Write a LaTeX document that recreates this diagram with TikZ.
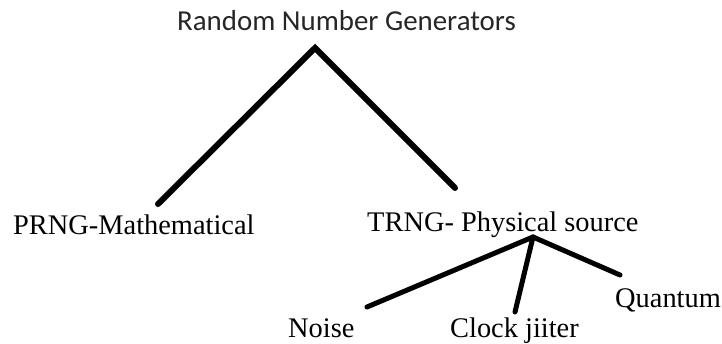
\documentclass[tikz,border=0pt]{standalone}
\usepackage{fontspec}
\setmainfont{Liberation Serif}
\newfontfamily\calib{Carlito}
\begin{document}
\begin{tikzpicture}[x=1pt,y=-1pt,
  lbl/.style={anchor=base west,inner sep=0pt,font=\fontsize{28.4}{30}\selectfont},
  ttl/.style={anchor=base west,inner sep=0pt,font=\calib\fontsize{28.9}{30}\selectfont,text=black!85},
  thick line/.style={line width=6pt,line cap=round,line join=miter},
  thin line/.style={line width=5pt,line cap=round,line join=miter}]
\useasboundingbox (0,0) rectangle (722,344);
\node[ttl] (rng) at (177,31) {Random Number Generators};
\node[lbl] (prng) at (13,235) {PRNG-Mathematical};
\node[lbl] (trng) at (367,232) {TRNG- Physical source};
\node[lbl] (noise) at (288,337) {Noise};
\node[lbl] (clock) at (450,337) {Clock jiiter};
\node[lbl] (quantum) at (615,307) {Quantum};
\coordinate (apex) at (315,48);
\coordinate (pend) at (158,204);
\coordinate (tend) at (455,188);
\coordinate (sub) at (533,237);
\coordinate (nend) at (367,307);
\coordinate (cend) at (515,312);
\coordinate (qend) at (620,275);
\draw[thick line] (pend) -- (apex) -- (tend);
\draw[thin line] (nend) -- (sub) -- (qend);
\draw[thin line] (sub) -- (cend);
\end{tikzpicture}
\end{document}
